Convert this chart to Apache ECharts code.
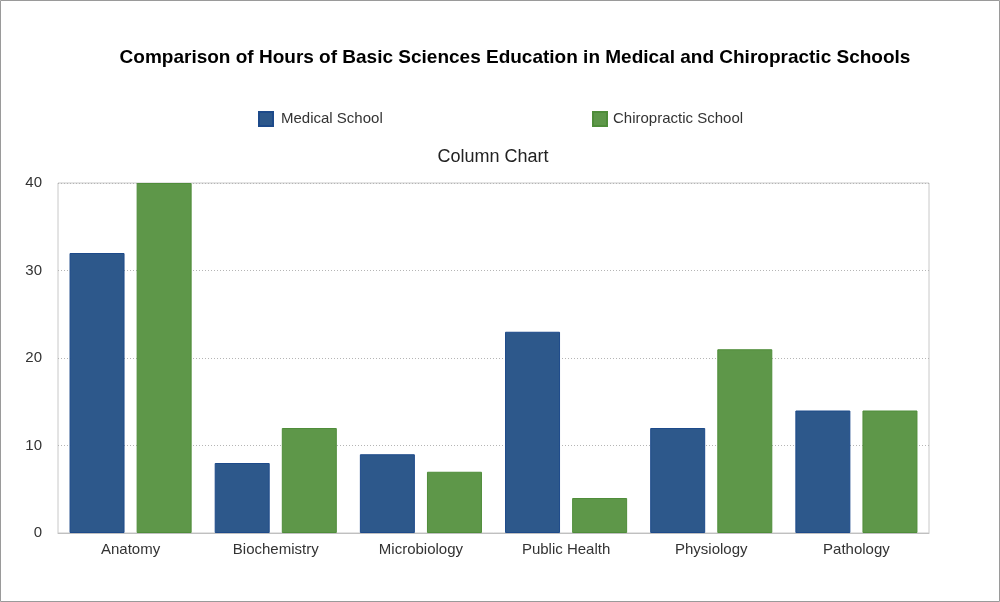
<!DOCTYPE html>
<html><head><meta charset="utf-8">
<script src="https://cdn.jsdelivr.net/npm/echarts@6/dist/echarts.min.js"></script>
<style>html,body{margin:0;padding:0;background:#fff}#c{width:1000px;height:602px}</style>
</head><body><div id="c"></div>
<script>
const categories = ['Anatomy','Biochemistry','Microbiology','Public Health','Physiology','Pathology'];
const medical = [32, 8, 9, 23, 12, 14];
const chiro = [40, 12, 7, 4, 21, 14];
const yTicks = [0, 10, 20, 30, 40];
const seriesNames = ['Medical School', 'Chiropractic School'];

const chart = echarts.init(document.getElementById('c'));
const font = 'Liberation Sans, Arial, Helvetica, sans-serif';
chart.setOption({
  animation: false,
  textStyle: { fontFamily: font },
  graphic: [{ type: 'rect', shape: { x: 0.5, y: 0.5, width: 999, height: 601 }, style: { fill: 'none', stroke: '#9a9a9a', lineWidth: 1 }, z: 100 }],
  title: [
    { text: 'Comparison of Hours of Basic Sciences Education in Medical and Chiropractic Schools', left: 510, top: 43, textAlign: 'center',
      textStyle: { fontSize: 19, fontWeight: 'bold', color: '#000', fontFamily: font } },
    { text: 'Column Chart', left: 488, top: 143, textAlign: 'center',
      textStyle: { fontSize: 18, fontWeight: 'normal', color: '#222', fontFamily: font } }
  ],
  legend: [
    { data: [seriesNames[0]], left: 253, top: 106, itemWidth: 14, itemHeight: 14, itemGap: 8, icon: 'rect',
      textStyle: { fontSize: 15, color: '#333', fontFamily: font, padding: [0, 0, 0, 3] } },
    { data: [seriesNames[1]], left: 587, top: 106, itemWidth: 14, itemHeight: 14, itemGap: 8, icon: 'rect',
      textStyle: { fontSize: 15, color: '#333', fontFamily: font, padding: [0, 0, 0, 1] } }
  ],
  grid: { left: 58, top: 183, right: 71, bottom: 69, show: true, borderColor: '#c8c8c8', borderWidth: 1, containLabel: false },
  xAxis: {
    type: 'category', data: categories,
    axisLine: { lineStyle: { color: '#c0c0c0' } },
    axisTick: { show: false },
    axisLabel: { fontSize: 15, color: '#333', margin: 9, fontFamily: font }
  },
  yAxis: {
    type: 'value', min: yTicks[0], max: yTicks[yTicks.length - 1], interval: 10,
    axisLine: { show: false }, axisTick: { show: false },
    axisLabel: { fontSize: 15, color: '#333', margin: 16, fontFamily: font },
    splitLine: { lineStyle: { color: '#b5b5b5', type: [1, 2] } }
  },
  series: [
    { name: seriesNames[0], type: 'bar', data: medical, barWidth: 55, barGap: '22%',
      itemStyle: { color: '#2d588b', borderColor: '#1d4a8a', borderWidth: 1 } },
    { name: seriesNames[1], type: 'bar', data: chiro, barWidth: 55, barGap: '22%',
      itemStyle: { color: '#5e9749', borderColor: '#4f8d3a', borderWidth: 1 } }
  ]
});
</script></body></html>
